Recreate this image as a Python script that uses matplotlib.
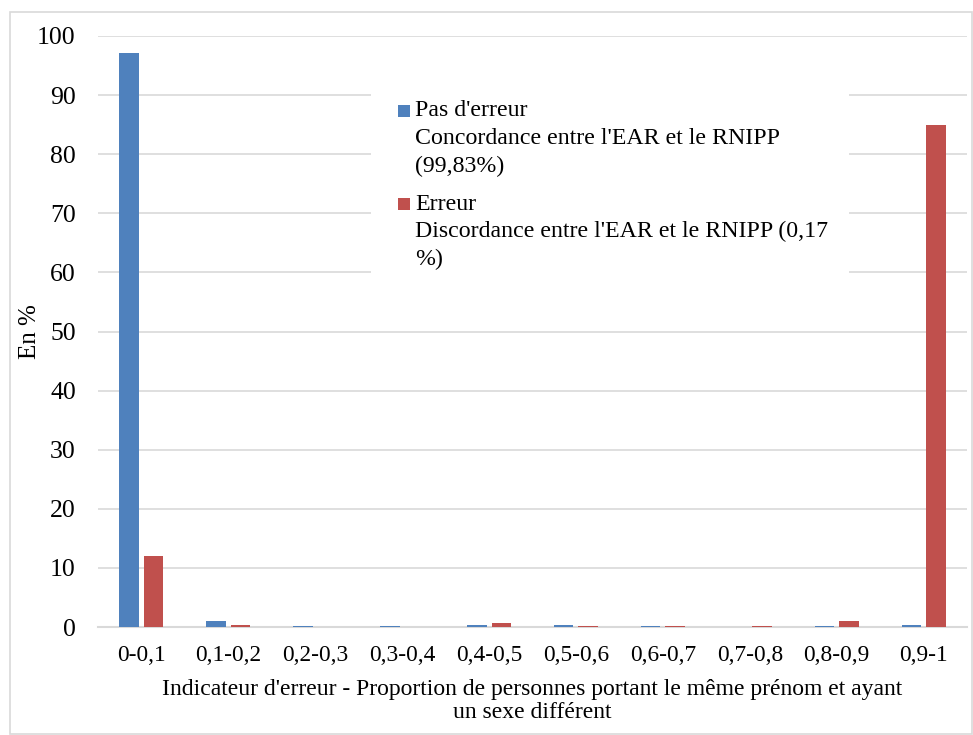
import matplotlib
matplotlib.use('Agg')
import matplotlib.pyplot as plt
import numpy as np

# Data
categories = ['0-0,1', '0,1-0,2', '0,2-0,3', '0,3-0,4', '0,4-0,5',
              '0,5-0,6', '0,6-0,7', '0,7-0,8', '0,8-0,9', '0,9-1']
pas_erreur = [97.1, 1.0, 0.15, 0.1, 0.35, 0.35, 0.1, 0.0, 0.1, 0.3]
erreur = [12.0, 0.3, 0.0, 0.0, 0.6, 0.25, 0.1, 0.15, 1.0, 85.0]
series_labels = ["Pas d'erreur\nConcordance entre l'EAR et le RNIPP\n(99,83%)",
                 "Erreur\nDiscordance entre l'EAR et le RNIPP (0,17\n%)"]
series_colors = ['#4F81BD', '#C0504D']
yticks = list(range(0, 101, 10))

W, H = 973, 735
plt.rcParams['font.family'] = ['Liberation Serif', 'DejaVu Serif']

fig = plt.figure(figsize=(W / 100, H / 100), dpi=100)

def px(x, y):
    # pixel position (from top-left) -> figure fraction
    return x / W, 1 - y / H

# outer chart border
fig.patches.append(plt.Rectangle(px(9.5, 734), 962 / W, 722 / H, transform=fig.transFigure,
                                 fill=False, edgecolor='#D9D9D9', linewidth=1.2))

left, top = px(98, 36)
right, bottom = px(967, 627)
ax = fig.add_axes([left, bottom, right - left, top - bottom])

x = np.arange(len(categories))
w = 0.224
ax.bar(x - 0.141, pas_erreur, w, color=series_colors[0], zorder=3)
ax.bar(x + 0.141, erreur, w, color=series_colors[1], zorder=3)

ax.set_xlim(-0.5, len(categories) - 0.5)
ax.set_ylim(0, 100)
ax.set_yticks(yticks)
ax.set_xticks(x)
ax.set_xticklabels(categories)
ax.yaxis.grid(True, color='#D9D9D9', linewidth=1.2, zorder=0)
ax.set_axisbelow(True)
for s in ['top', 'right', 'left']:
    ax.spines[s].set_visible(False)
ax.spines['bottom'].set_color('#D9D9D9')
ax.spines['bottom'].set_linewidth(1.5)
ax.tick_params(axis='y', length=0, pad=16, labelsize=18.5)
ax.tick_params(axis='x', length=0, pad=13, labelsize=16.8)

ax.set_ylabel('En %', fontsize=18, va='center')
ax.yaxis.set_label_coords((30 - 98) / (967 - 98), 0.5)
ax.set_xlabel("Indicateur d'erreur - Proportion de personnes portant le même prénom et ayant\nun sexe différent",
              fontsize=17, linespacing=1.12, va='center')
ax.xaxis.set_label_coords(0.5, -(701 - 627) / (627 - 36))

# legend drawn by hand: white box, square marker next to the first line of each entry
fig.patches.append(plt.Rectangle(px(371, 285), (849 - 371) / W, 200 / H, transform=fig.transFigure,
                                 facecolor='white', edgecolor='none', zorder=5))
first_baselines = [116.5, 209.5]
line_step = 27.7
for label, color, base in zip(series_labels, series_colors, first_baselines):
    fig.patches.append(plt.Rectangle(px(398, base), 12 / W, 12 / H, transform=fig.transFigure,
                                     facecolor=color, edgecolor='none', zorder=6))
    for i, line in enumerate(label.split('\n')):
        fx, fy = px(415, base + i * line_step)
        fig.text(fx, fy, line, fontsize=17.2, va='baseline', ha='left', zorder=7)

fig.savefig('out.png', dpi=100)
